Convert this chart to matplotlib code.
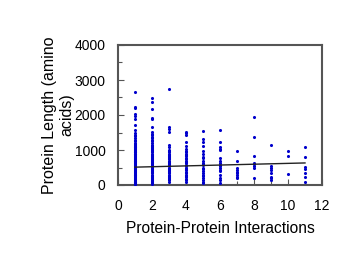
import matplotlib
matplotlib.use("Agg")
import matplotlib.pyplot as plt
from matplotlib.ticker import MultipleLocator

plt.rcParams['font.family'] = ['Liberation Sans', 'DejaVu Sans']

# interactions count per protein column and observed protein lengths
len_1 = [2670, 2230, 2210, 2030, 1960, 1900, 1710, 1570, 1480, 1440, 1400, 1350, 1300, 1250, 1200,
         1180, 1150, 1120, 1100, 1080, 1050, 1020, 1000, 980, 950, 930, 900, 880, 850, 820, 800, 780,
         750, 720, 700, 680, 650, 620, 600, 580, 550, 520, 500, 480, 450, 420, 400, 380, 350, 320,
         300, 280, 250, 220, 200, 180, 150, 120, 100, 80, 60, 40, 20]
len_2 = [2480, 2380, 2160, 1920, 1890, 1670, 1520, 1460, 1420, 1380, 1330, 1290, 1250, 1200, 1150,
         1120, 1080, 1050, 1020, 990, 960, 930, 900, 870, 840, 810, 780, 750, 720, 690, 660, 630,
         600, 570, 540, 510, 480, 450, 420, 390, 360, 330, 300, 270, 240, 210, 180, 150, 120, 90, 60, 40]
len_3 = [2750, 1650, 1590, 1520, 1140, 1080, 1000, 970, 940, 900, 870, 840, 800, 770, 740, 700, 670,
         640, 600, 570, 540, 500, 470, 440, 400, 370, 340, 300, 270, 240, 200, 170, 140, 100]
len_4 = [1520, 1480, 1440, 1240, 1110, 1040, 980, 940, 900, 860, 820, 780, 740, 700, 660, 620, 580,
         540, 500, 460, 420, 380, 340, 300, 260, 220, 180, 140, 100]
len_5 = [1540, 1310, 1240, 1110, 980, 900, 810, 760, 700, 640, 600, 560, 500, 460, 400, 350, 300,
         250, 200, 150, 100, 70]
len_6 = [1580, 1240, 1100, 1040, 1000, 780, 700, 620, 580, 530, 480, 440, 390, 300, 200, 140, 50]
len_7 = [970, 690, 480, 430, 380, 330, 280, 230, 190]
len_8 = [1950, 1380, 830, 640, 600, 550, 500, 190]
len_9 = [1140, 540, 480, 420, 330, 240, 190, 140]
len_10 = [970, 840, 310]
len_11 = [1100, 810, 520, 470, 330, 240, 100]

columns = [len_1, len_2, len_3, len_4, len_5, len_6, len_7, len_8, len_9, len_10, len_11]
interactions = [1, 2, 3, 4, 5, 6, 7, 8, 9, 10, 11]

trend_x = [1, 11]
trend_y = [510, 630]

fig = plt.figure(figsize=(3.58, 2.77), dpi=100)
ax = fig.add_axes([118/358, 1 - 185/277, (322-118)/358, (185-45)/277])

for k, vals in zip(interactions, columns):
    ax.scatter([k] * len(vals), vals, s=5, color='#0000CC', linewidths=0, zorder=3)

ax.plot(trend_x, trend_y, color='#222222', lw=1.0, zorder=4)

ax.set_xlim(0, 12)
ax.set_ylim(0, 4000)
ax.xaxis.set_major_locator(MultipleLocator(2))
ax.xaxis.set_minor_locator(MultipleLocator(1))
ax.yaxis.set_major_locator(MultipleLocator(1000))
ax.yaxis.set_minor_locator(MultipleLocator(500))
ax.tick_params(which='both', direction='in', color='#555555', labelsize=10, top=False, right=False)
ax.tick_params(which='major', length=4, width=0.8)
ax.tick_params(which='minor', length=3, width=0.8)
ax.tick_params(axis='y', which='major', pad=9)
ax.tick_params(axis='x', which='major', pad=10)
for sp in ax.spines.values():
    sp.set_color('#555555')
    sp.set_linewidth(1.5)

ax.set_xlabel('Protein-Protein Interactions', fontsize=11.2, labelpad=6)
ax.set_ylabel('Protein Length (amino\nacids)', fontsize=11.5, labelpad=0)

fig.savefig('out.png', dpi=100)
